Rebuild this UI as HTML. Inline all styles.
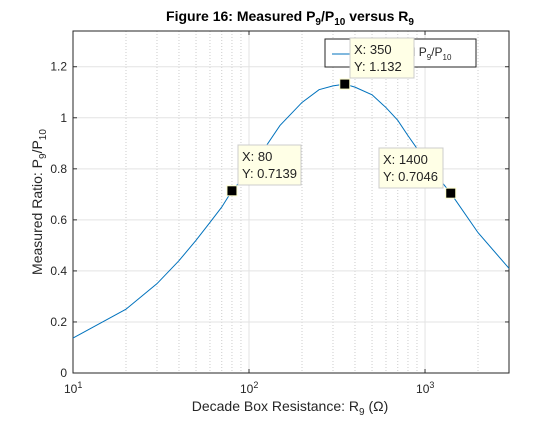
<!DOCTYPE html>
<html><head><meta charset="utf-8"><style>
body{margin:0;background:#fff;font-family:"Liberation Sans",sans-serif}
svg text{font-family:"Liberation Sans",sans-serif}
</style></head><body>
<svg id="c" width="560" height="420" xmlns="http://www.w3.org/2000/svg"></svg>
<script>
const xs=[10,20,30,40,50,60,70,80,100,150,200,250,300,350,400,500,600,700,800,900,1000,1400,2000,3000];
const ys=[0.137,0.25,0.35,0.44,0.52,0.59,0.65,0.7139,0.79,0.97,1.06,1.11,1.125,1.132,1.12,1.09,1.04,0.99,0.93,0.88,0.83,0.7046,0.55,0.41];
const yTicks=[0,0.2,0.4,0.6,0.8,1,1.2];
const yTickLabels=["0","0.2","0.4","0.6","0.8","1","1.2"];
const tipX=[80,350,1400];
const tipY=[0.7139,1.132,0.7046];
const L=73,R=509,T=31,B=373,XMIN=10,XMAX=3000,YMAX=1.34;
const sx=v=>L+(Math.log10(v)-1)/(Math.log10(XMAX)-1)*(R-L);
const sy=v=>B-v/YMAX*(B-T);
const svg=document.getElementById('c');const NS="http://www.w3.org/2000/svg";
function mk(t,a,p){const e=document.createElementNS(NS,t);for(const k in a)e.setAttribute(k,a[k]);(p||svg).appendChild(e);return e;}
for(let d=10;d<=1000;d*=10){for(let m=2;m<=9;m++){const v=d*m;if(v>XMAX)break;
const g=mk('line',{x1:sx(v),x2:sx(v),y1:T,y2:B,stroke:'#ccc','stroke-dasharray':'1,2'});

}}
for(const v of [10,100,1000]){const g=mk('line',{x1:sx(v),x2:sx(v),y1:T,y2:B,stroke:'#e3e3e3'});

}
yTicks.forEach((v,i)=>{const g=mk('line',{x1:L,x2:R,y1:sy(v),y2:sy(v),stroke:'#e3e3e3'});


mk('line',{x1:L,x2:L+4,y1:sy(v),y2:sy(v),stroke:'#333'});mk('line',{x1:R,x2:R-4,y1:sy(v),y2:sy(v),stroke:'#333'});
const t=mk('text',{x:L-6,y:sy(v)+4,'text-anchor':'end','font-size':12,fill:'#262626'});t.textContent=yTickLabels[i];

});
[[10,'1'],[100,'2'],[1000,'3']].forEach(([v,e])=>{
mk('line',{x1:sx(v),x2:sx(v),y1:B,y2:B-4,stroke:'#333'});mk('line',{x1:sx(v),x2:sx(v),y1:T,y2:T+4,stroke:'#333'});
const t=mk('text',{x:sx(v)-9,y:B+20,'font-size':12,fill:'#262626'});t.innerHTML='10<tspan dy="-5" font-size="9">'+e+'</tspan>';

});
const ax=mk('rect',{x:L,y:T,width:R-L,height:B-T,fill:'none',stroke:'#262626'});


const line=mk('polyline',{points:xs.map((x,i)=>sx(x)+','+sy(ys[i])).join(' '),fill:'none',stroke:'#0072bd','stroke-width':1});


const lg=mk('g',{});


mk('rect',{x:325,y:39,width:151,height:28,fill:'#fff',stroke:'#262626'},lg);
mk('line',{x1:332,x2:358,y1:54,y2:54,stroke:'#0072bd'},lg);
const lt=mk('text',{x:362,y:56,'font-size':12,fill:'#262626'},lg);
lt.innerHTML='Measured P<tspan dy="4" font-size="8">9</tspan><tspan dy="-4">/P</tspan><tspan dy="4" font-size="8">10</tspan>';
const boxes=[[238,145],[350,38],[379,148]];
tipX.forEach((x,i)=>{const g=mk('g',{});


const [bx,by]=boxes[i];const w=i==0?63:64;
mk('rect',{x:bx,y:by,width:w,height:40,fill:'#ffffe6',stroke:'#ccc'},g);
const t1=mk('text',{x:bx+4,y:by+16,'font-size':13,fill:'#222'},g);t1.textContent='X: '+x;
const t2=mk('text',{x:bx+4,y:by+33,'font-size':13,fill:'#222'},g);t2.textContent='Y: '+tipY[i];
mk('rect',{x:sx(x)-5,y:sy(tipY[i])-5,width:10,height:10,fill:'#000',stroke:'#ffffcc'},g);});
const ti=mk('text',{x:290,y:21,'text-anchor':'middle','font-size':14,'font-weight':'bold',fill:'#000'});
ti.innerHTML='Figure 16: Measured P<tspan dy="4" font-size="10">9</tspan><tspan dy="-4">/P</tspan><tspan dy="4" font-size="10">10</tspan><tspan dy="-4"> versus R</tspan><tspan dy="4" font-size="10">9</tspan>';


const xl=mk('text',{x:290,y:411,'text-anchor':'middle','font-size':14,fill:'#262626'});
xl.innerHTML='Decade Box Resistance: R<tspan dy="4" font-size="10">9</tspan><tspan dy="-4"> (Ω)</tspan>';


const yl=mk('text',{x:0,y:0,'text-anchor':'middle','font-size':14,fill:'#262626',transform:'translate(42,202) rotate(-90)'});
yl.innerHTML='Measured Ratio: P<tspan dy="4" font-size="10">9</tspan><tspan dy="-4">/P</tspan><tspan dy="4" font-size="10">10</tspan>';


</script>
</body></html>
